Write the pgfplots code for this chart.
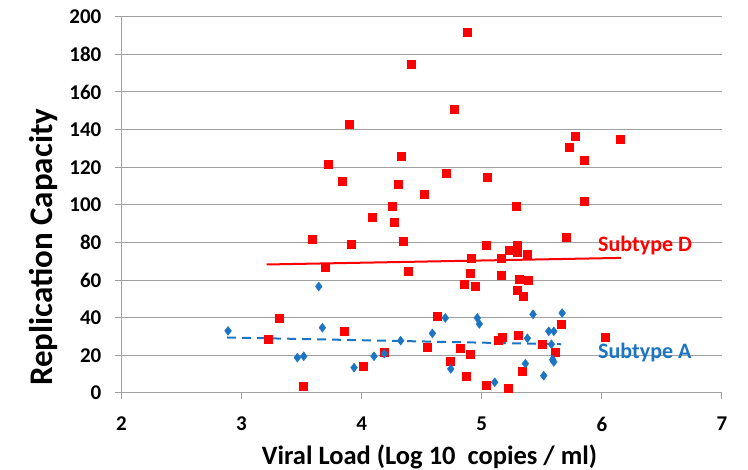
\documentclass[border=0pt]{standalone}
\usepackage{pgfplots}
\pgfplotsset{compat=1.18}
\usepackage{fontspec}
\setmainfont{Carlito}
\definecolor{myred}{RGB}{255,0,0}
\definecolor{myblue}{RGB}{28,117,196}
\definecolor{gridgray}{RGB}{160,160,160}
\begin{document}
\begin{tikzpicture}
\begin{axis}[
  width=600.6pt, height=376.3pt, scale only axis,
  xmin=2, xmax=7, ymin=0, ymax=200,
  xtick={2,3,4,5,6,7}, ytick={0,20,...,200},
  axis lines*=left,
  axis line style={gridgray, line width=1pt},
  ymajorgrids, grid style={gridgray, line width=1pt},
  major tick length=6.5pt, tick align=outside,
  tick style={gridgray, line width=1pt},
  /pgf/number format/assume math mode=true,
  tick label style={font=\bfseries\fontsize{21}{21}\selectfont},
  xticklabel style={yshift=-14pt},
  yticklabel style={xshift=-10pt},
  clip=false,
]
\addplot[only marks, mark=square*, mark size=4pt, color=myred] coordinates {
(4.877,192) (4.414,174.8) (4.772,150.9) (3.893,142.9) (4.331,125.7) (3.718,121.8)
(3.842,112.8) (4.303,110.8) (4.708,116.7) (5.042,114.9) (4.525,105.7) (4.256,99.1)
(5.779,136.7) (6.154,134.7) (5.724,130.9) (5.852,123.8) (5.849,101.8) (5.283,99.1)
(4.089,93.6) (4.267,90.8) (3.585,81.9) (3.909,78.9) (4.342,80.7) (5.033,78.7)
(3.693,66.7) (4.389,64.5) (4.908,71.6) (4.903,63.8) (4.850,57.6) (4.944,56.6)
(3.31,39.9) (3.221,28.6) (3.853,32.6) (4.633,40.6) (4.189,21.8) (4.014,14.5)
(3.515,3.4) (4.545,24.5) (4.819,23.8) (4.903,20.6) (4.736,16.7) (4.869,9.0)
(5.036,4.3) (5.702,82.6) (5.297,78.7) (5.227,75.7) (5.297,74.6) (5.377,73.6)
(5.163,71.6) (5.163,62.6) (5.311,60.6) (5.386,59.7) (5.297,54.6) (5.341,51.4)
(5.658,36.5) (5.169,29.6) (5.133,27.8) (5.305,30.9) (5.502,25.7) (5.608,21.6)
(6.027,29.6) (5.336,11.5) (5.222,2.3)
};
\addplot[only marks, mark=diamond*, mark size=4.5pt, color=myblue] coordinates {
(2.888,33) (3.643,56.6) (3.673,34.7) (3.465,18.8) (3.518,19.5) (3.937,13.5)
(4.103,19.5) (4.189,20.9) (4.325,27.8) (4.589,31.7) (4.697,39.9) (4.742,12.8)
(4.963,39.9) (4.98,36.7) (5.427,41.8) (5.669,42.5) (5.558,32.8) (5.6,32.8)
(5.38,29.1) (5.58,25.9) (5.363,15.6) (5.59,17.8) (5.6,16.5) (5.516,9.2) (5.108,5.7)
};
\addplot[myred, line width=2pt] coordinates {(3.21,68.3) (6.16,71.8)};
\addplot[myblue, line width=2pt, dash pattern=on 9pt off 6pt] coordinates {(2.88,29.5) (5.66,25.9)};
\node[anchor=west, text=myred, font=\bfseries\fontsize{22}{22}\selectfont, inner sep=0pt] at (axis cs:5.968,78.2) {Subtype D};
\node[anchor=west, text=myblue, font=\bfseries\fontsize{22}{22}\selectfont, inner sep=0pt] at (axis cs:5.968,21.4) {Subtype A};
\node[rotate=90, font=\bfseries\fontsize{33}{33}\selectfont, inner sep=0pt] at ([xshift=-78.4pt]axis description cs:0,0.387) {Replication Capacity};
\node[font=\bfseries\fontsize{26.5}{26.5}\selectfont, inner sep=0pt] at ([yshift=-64pt]axis description cs:0.513,0) {Viral Load (Log 10 \ copies / ml)};
\end{axis}
\path (current axis.south west) ++(-121.4pt,-77pt) rectangle ++(748pt,470pt);
\end{tikzpicture}
\end{document}
